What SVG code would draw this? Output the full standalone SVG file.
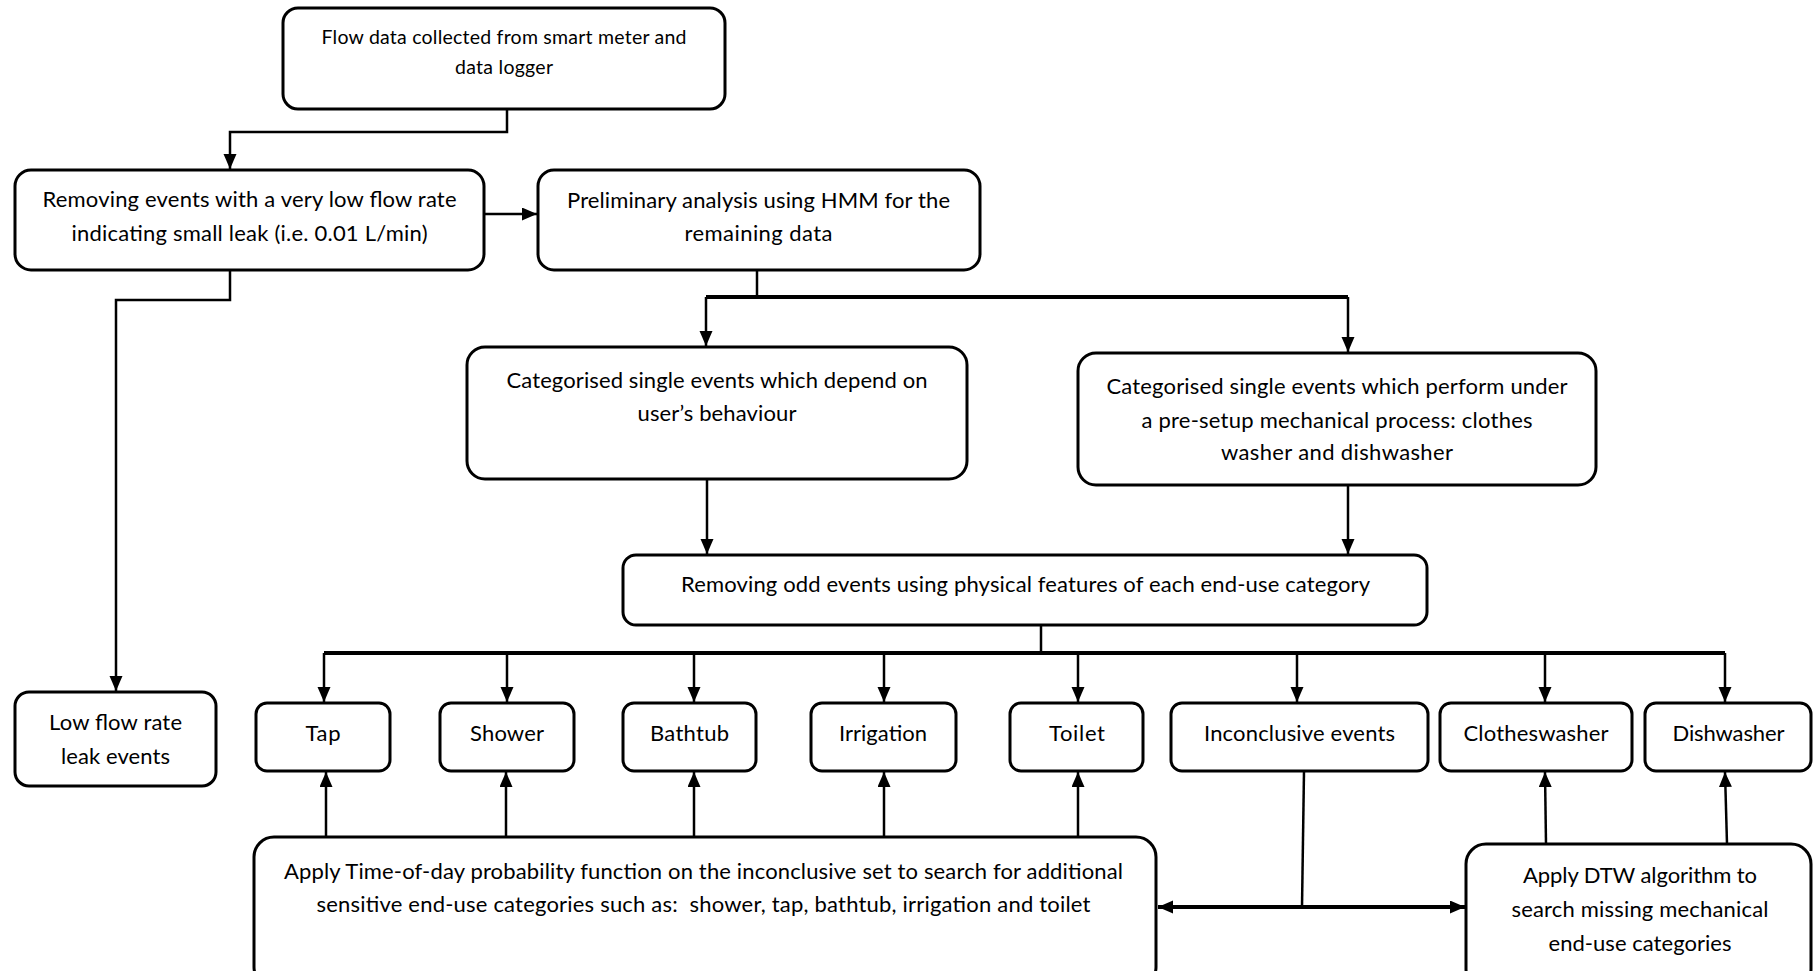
<svg xmlns="http://www.w3.org/2000/svg" width="1814" height="971" viewBox="0 0 1814 971">
<style>
.box{fill:#fff;stroke:#000;stroke-width:3}
.t{font-family:Lato,"Liberation Sans",sans-serif;font-size:22px;fill:#000;text-anchor:middle}
.ts{font-size:19.5px}
.c{fill:none;stroke:#000;stroke-width:2.5}
.ct{fill:none;stroke:#000;stroke-width:4}
.a{marker-end:url(#ah)}
</style>
<defs>
<marker id="ah" markerUnits="userSpaceOnUse" markerWidth="16" markerHeight="14" refX="15" refY="6.5" orient="auto-start-reverse">
<path d="M0,0 L15,6.5 L0,13 z" fill="#000"/>
</marker>
</defs>
<rect width="1814" height="971" fill="#fff"/>

<g id="connectors">
<path class="c a" d="M507,109 V132 H230 V169"/>
<path class="c a" d="M484,214 H537"/>
<path class="c a" d="M230,270 V300 H116 V691"/>
<path class="c" d="M757,270 V297"/>
<path class="ct" d="M706,297 H1348"/>
<path class="c a" d="M706,297 V346"/>
<path class="c a" d="M1348,297 V352"/>
<path class="c a" d="M707,479 V554"/>
<path class="c a" d="M1348,485 V554"/>
<path class="c" d="M1041,625 V653"/>
<path class="ct" d="M324,653 H1725"/>
<path class="c a" d="M324,653 V702"/>
<path class="c a" d="M507,653 V702"/>
<path class="c a" d="M694,653 V702"/>
<path class="c a" d="M884,653 V702"/>
<path class="c a" d="M1078,653 V702"/>
<path class="c a" d="M1297,653 V702"/>
<path class="c a" d="M1545,653 V702"/>
<path class="c a" d="M1725,653 V702"/>
<path class="c a" d="M326,837 V772"/>
<path class="c a" d="M506,837 V772"/>
<path class="c a" d="M694,837 V772"/>
<path class="c a" d="M884,837 V772"/>
<path class="c a" d="M1078,837 V772"/>
<path class="c" d="M1304,771 L1302,907"/>
<path class="ct a" style="marker-start:url(#ah)" d="M1158,907 H1465"/>
<path class="c a" d="M1546,844 L1545,772"/>
<path class="c a" d="M1727,844 L1725,772"/>
</g>

<g id="flow-data">
<rect class="box" x="283" y="8" width="442" height="101" rx="15"/>
<text class="t ts" x="504" y="44" textLength="365">Flow data collected from smart meter and</text>
<text class="t ts" x="504" y="74" textLength="98">data logger</text>
</g>

<g id="removing-low">
<rect class="box" x="15" y="170" width="469" height="100" rx="16"/>
<text class="t" x="249.5" y="207" textLength="414">Removing events with a very low flow rate</text>
<text class="t" x="249.5" y="241" textLength="356">indicating small leak (i.e. 0.01 L/min)</text>
</g>

<g id="preliminary">
<rect class="box" x="538" y="170" width="442" height="100" rx="16"/>
<text class="t" x="758.5" y="208" textLength="383">Preliminary analysis using HMM for the</text>
<text class="t" x="758.5" y="241" textLength="148">remaining data</text>
</g>

<g id="user-behaviour">
<rect class="box" x="467" y="347" width="500" height="132" rx="18"/>
<text class="t" x="717" y="388" textLength="421">Categorised single events which depend on</text>
<text class="t" x="717" y="421" textLength="159">user’s behaviour</text>
</g>

<g id="mechanical">
<rect class="box" x="1078" y="353" width="518" height="132" rx="18"/>
<text class="t" x="1337" y="394" textLength="461">Categorised single events which perform under</text>
<text class="t" x="1337" y="428" textLength="391">a pre-setup mechanical process: clothes</text>
<text class="t" x="1337" y="460" textLength="232">washer and dishwasher</text>
</g>

<g id="odd-events">
<rect class="box" x="623" y="555" width="804" height="70" rx="13"/>
<text class="t" x="1025.5" y="592" textLength="689">Removing odd events using physical features of each end-use category</text>
</g>

<g id="low-flow-leak">
<rect class="box" x="15" y="692" width="201" height="94" rx="14"/>
<text class="t" x="115.5" y="730" textLength="133">Low flow rate</text>
<text class="t" x="115.5" y="764" textLength="109">leak events</text>
</g>

<g id="tap">
<rect class="box" x="256" y="703" width="134" height="68" rx="11"/>
<text class="t" x="323" y="741" textLength="35">Tap</text>
</g>
<g id="shower">
<rect class="box" x="440" y="703" width="134" height="68" rx="11"/>
<text class="t" x="507" y="741" textLength="74">Shower</text>
</g>
<g id="bathtub">
<rect class="box" x="623" y="703" width="133" height="68" rx="11"/>
<text class="t" x="689.5" y="741" textLength="79">Bathtub</text>
</g>
<g id="irrigation">
<rect class="box" x="811" y="703" width="145" height="68" rx="11"/>
<text class="t" x="883" y="741" textLength="88">Irrigation</text>
</g>
<g id="toilet">
<rect class="box" x="1010" y="703" width="133" height="68" rx="11"/>
<text class="t" x="1077" y="741" textLength="56">Toilet</text>
</g>
<g id="inconclusive">
<rect class="box" x="1171" y="703" width="257" height="68" rx="11"/>
<text class="t" x="1299.5" y="741" textLength="191">Inconclusive events</text>
</g>
<g id="clotheswasher">
<rect class="box" x="1440" y="703" width="192" height="68" rx="11"/>
<text class="t" x="1536" y="741" textLength="145">Clotheswasher</text>
</g>
<g id="dishwasher">
<rect class="box" x="1645" y="703" width="166" height="68" rx="11"/>
<text class="t" x="1728.5" y="741" textLength="112">Dishwasher</text>
</g>

<g id="time-of-day">
<rect class="box" x="254" y="837" width="902" height="150" rx="20"/>
<text class="t" x="703.5" y="879" textLength="839">Apply Time-of-day probability function on the inconclusive set to search for additional</text>
<text class="t" x="703.5" y="912" textLength="774" xml:space="preserve">sensitive end-use categories such as:  shower, tap, bathtub, irrigation and toilet</text>
</g>

<g id="dtw">
<rect class="box" x="1466" y="844" width="345" height="145" rx="20"/>
<text class="t" x="1640" y="883" textLength="234">Apply DTW algorithm to</text>
<text class="t" x="1640" y="917" textLength="257">search missing mechanical</text>
<text class="t" x="1640" y="951" textLength="183">end-use categories</text>
</g>
</svg>
